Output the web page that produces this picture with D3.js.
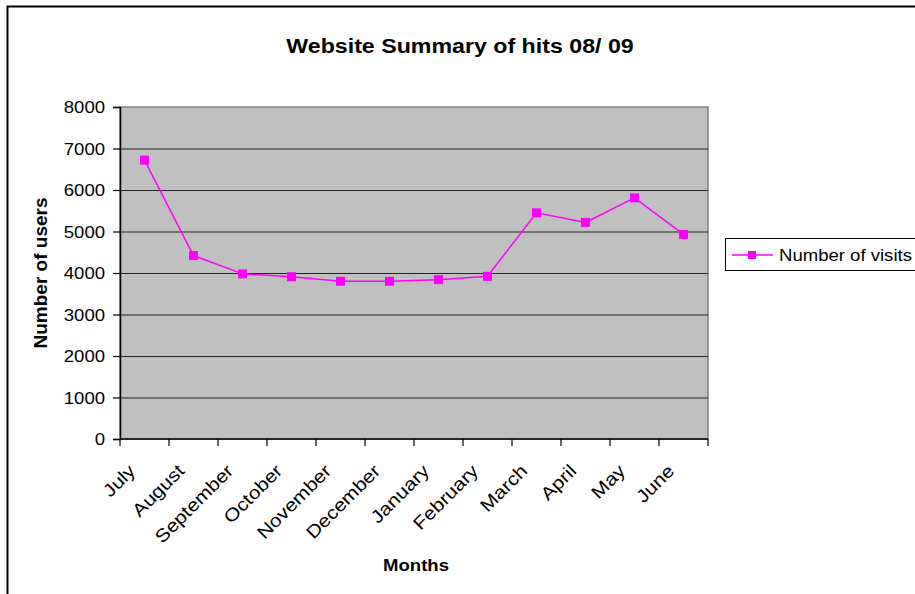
<!DOCTYPE html>
<html>
<head>
<meta charset="utf-8">
<script src="https://cdn.jsdelivr.net/npm/d3@7"></script>
<style>
  body { margin: 0; background: #fff; }
  text { font-family: Arial, "Liberation Sans", sans-serif; fill: #000; }
</style>
</head>
<body>
<div id="chart"></div>
<script>
// data
var months = ["July", "August", "September", "October", "November", "December",
              "January", "February", "March", "April", "May", "June"];
var visits = [6720, 4420, 3980, 3910, 3800, 3800, 3840, 3920, 5450, 5220, 5810, 4930];
var yTicks = [0, 1000, 2000, 3000, 4000, 5000, 6000, 7000, 8000];

var width = 915, height = 594;
var plot = {left: 120, right: 708, top: 107, bottom: 439};
var sx = 1.16; // the original text is a bit wider than it is tall

var svg = d3.select("#chart").append("svg")
    .attr("width", width)
    .attr("height", height);

// outer chart border (runs off the right and bottom edge)
svg.append("rect")
    .attr("x", 7.5).attr("y", 6.5)
    .attr("width", 1000).attr("height", 1000)
    .attr("fill", "none")
    .attr("stroke", "#000")
    .attr("stroke-width", 2);

var x = d3.scaleBand().domain(months).range([plot.left, plot.right]);
var y = d3.scaleLinear().domain([0, 8000]).range([plot.bottom, plot.top]);

// plot area
svg.append("rect")
    .attr("x", plot.left).attr("y", plot.top)
    .attr("width", plot.right - plot.left)
    .attr("height", plot.bottom - plot.top)
    .attr("fill", "#c0c0c0")
    .attr("stroke", "#808080")
    .attr("stroke-width", 1.5);

// gridlines
svg.append("g").selectAll("line")
    .data(yTicks.filter(function(d) { return d > 0 && d < 8000; }))
    .enter().append("line")
    .attr("x1", plot.left).attr("x2", plot.right)
    .attr("y1", function(d) { return y(d) + 0.5; })
    .attr("y2", function(d) { return y(d) + 0.5; })
    .attr("stroke", "#222")
    .attr("stroke-width", 1.2);

// y axis
var yAxis = svg.append("g")
    .attr("transform", "translate(" + plot.left + ",0)")
    .call(d3.axisLeft(y).tickValues(yTicks).tickSize(7).tickPadding(8).tickFormat(d3.format("d")));
yAxis.select(".domain").attr("stroke", "#000").attr("stroke-width", 1.5);
yAxis.selectAll(".tick line").attr("stroke", "#000").attr("stroke-width", 1.2);
yAxis.selectAll(".tick text")
    .attr("font-size", 16)
    .attr("font-family", "Arial, 'Liberation Sans', sans-serif")
    .attr("dy", "0.36em")
    .attr("transform", function() {
        var t = d3.select(this);
        var xx = +t.attr("x");
        return "translate(" + xx + ",0) scale(" + sx + ",1) translate(" + (-xx) + ",0)";
    });

// x axis: ticks at category boundaries
var xAxis = svg.append("g").attr("transform", "translate(0," + plot.bottom + ")");
xAxis.append("line")
    .attr("x1", plot.left).attr("x2", plot.right)
    .attr("stroke", "#000").attr("stroke-width", 1.5);
var bounds = months.map(function(m) { return x(m); }).concat([plot.right]);
xAxis.selectAll(".xt").data(bounds).enter().append("line")
    .attr("class", "xt")
    .attr("x1", function(d) { return d; }).attr("x2", function(d) { return d; })
    .attr("y1", 0).attr("y2", 7)
    .attr("stroke", "#000").attr("stroke-width", 1.2);

xAxis.selectAll(".xl").data(months).enter().append("text")
    .attr("class", "xl")
    .attr("font-size", 18)
    .attr("text-anchor", "end")
    .attr("transform", function(d) {
        return "translate(" + (x(d) + x.bandwidth() / 2 - 8) + ",33) rotate(-45) scale(" + sx + ",1)";
    })
    .text(function(d) { return d; });

// series line and markers
var line = d3.line()
    .x(function(d, i) { return x(months[i]) + x.bandwidth() / 2; })
    .y(function(d) { return y(d); });

svg.append("path")
    .datum(visits)
    .attr("d", line)
    .attr("fill", "none")
    .attr("stroke", "#ff00ff")
    .attr("stroke-width", 1.5);

svg.append("g").selectAll("rect")
    .data(visits)
    .enter().append("rect")
    .attr("x", function(d, i) { return x(months[i]) + x.bandwidth() / 2 - 4.5; })
    .attr("y", function(d) { return y(d) - 4.5; })
    .attr("width", 9).attr("height", 9)
    .attr("fill", "#ff00ff");

// title
svg.append("text")
    .attr("transform", "translate(460,53) scale(" + sx + ",1)")
    .attr("text-anchor", "middle")
    .attr("font-size", 20)
    .attr("font-weight", "bold")
    .text("Website Summary of hits 08/ 09");

// axis titles
svg.append("text")
    .attr("transform", "translate(47,273) rotate(-90)")
    .attr("text-anchor", "middle")
    .attr("font-size", 19)
    .attr("font-weight", "bold")
    .text("Number of users");

svg.append("text")
    .attr("transform", "translate(416,571) scale(" + sx + ",1)")
    .attr("text-anchor", "middle")
    .attr("font-size", 16)
    .attr("font-weight", "bold")
    .text("Months");

// legend
var legend = svg.append("g").attr("transform", "translate(725,238)");
legend.append("rect")
    .attr("x", 0.5).attr("y", 0.5)
    .attr("width", 200).attr("height", 32)
    .attr("fill", "#fff")
    .attr("stroke", "#000")
    .attr("stroke-width", 1);
legend.append("line")
    .attr("x1", 7).attr("x2", 48)
    .attr("y1", 17).attr("y2", 17)
    .attr("stroke", "#ff00ff")
    .attr("stroke-width", 1.5);
legend.append("rect")
    .attr("x", 23).attr("y", 13)
    .attr("width", 8).attr("height", 8)
    .attr("fill", "#ff00ff");
legend.append("text")
    .attr("transform", "translate(54,23) scale(" + sx + ",1)")
    .attr("font-size", 16)
    .text("Number of visits");
</script>
</body>
</html>
